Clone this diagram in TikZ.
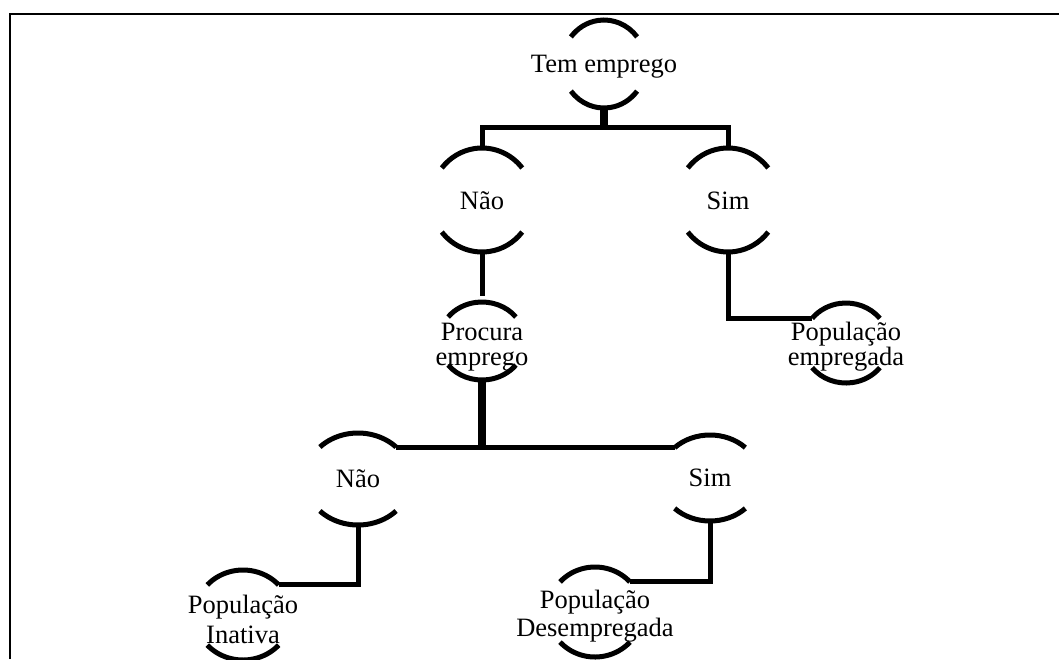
\documentclass[tikz,border=0pt]{standalone}
\usepackage{fontspec}
\setmainfont{Liberation Serif}
\usetikzlibrary{calc}
\tikzset{
  ring/.style={line width=5pt},
  conn/.style={line width=5pt},
  stem/.style={line width=8pt},
  frameline/.style={line width=2pt},
  lbl/.style={inner sep=0pt, align=center, font=\fontsize{26.5}{#1}\selectfont},
  lbl/.default=30
}
\newcommand\ringnode[9]{%
  \coordinate (#1-c) at (#2,-#3);
  \coordinate (#1-t) at (#2,-#3+#5);
  \coordinate (#1-b) at (#2,-#3-#5);
  \coordinate (#1-tl) at ({#2-#4*sin(#6)},{-#3+#5*cos(#6)});
  \coordinate (#1-tr) at ({#2+#4*sin(#6)},{-#3+#5*cos(#6)});
  \draw[ring] (#1-tr) arc[start angle=90-#6, end angle=90+#6, x radius=#4pt, y radius=#5pt];
  \draw[ring] ({#2-#4*sin(#6)},{-#3-#5*cos(#6)}) arc[start angle=270-#6, end angle=270+#6, x radius=#4pt, y radius=#5pt];
  \node[lbl=#8] (#1) at (#2,-#7) {#9};
}
\begin{document}
\begin{tikzpicture}[x=1pt,y=1pt]
\useasboundingbox (0,0) rectangle (1059,-659);
\draw[frameline] (10,-659) -- (10,-14) -- (1059,-14);
% nodes: name, cx, cy, a, b, phi, text y, line skip, text
\ringnode{tem}{604}{64}{42}{44}{52}{67}{30}{Tem emprego}
\ringnode{naoA}{482}{200}{51}{52}{52}{201}{30}{Não}
\ringnode{simA}{728}{200}{51}{52}{52}{201}{30}{Sim}
\ringnode{proc}{482}{341}{43}{39}{52}{347}{25}{Procura\\emprego}
\ringnode{pemp}{846}{343}{43}{40}{52}{347}{25}{População\\empregada}
\ringnode{naoB}{358}{479}{53}{46}{46}{479}{30}{Não}
\ringnode{simB}{710}{478}{50}{43}{45}{478}{30}{Sim}
\ringnode{pin}{243}{615}{48}{45}{48}{619}{30}{População\\Inativa}
\ringnode{pdes}{595}{612}{47}{45}{48}{616}{28}{População\\Desempregada}
% connectors
\coordinate (j1) at (604,-127);
\coordinate (j2) at (482,-446);
\draw[stem] (tem-b) -- (j1);
\draw[conn] (naoA-t) -- (naoA-t |- j1) -- (simA-t |- j1) -- (simA-t);
\draw[conn, shorten >=6pt] (naoA-b) -- (proc-t);
\draw[conn] (simA-b) |- (pemp-tl);
\draw[stem] (proc-b) -- (j2);
\draw[conn] (naoB-tr) -- (naoB-tr -| simB-tl);
\draw[conn] (naoB-b) |- (pin-tr);
\draw[conn] (simB-b) |- (pdes-tr);
\end{tikzpicture}
\end{document}
